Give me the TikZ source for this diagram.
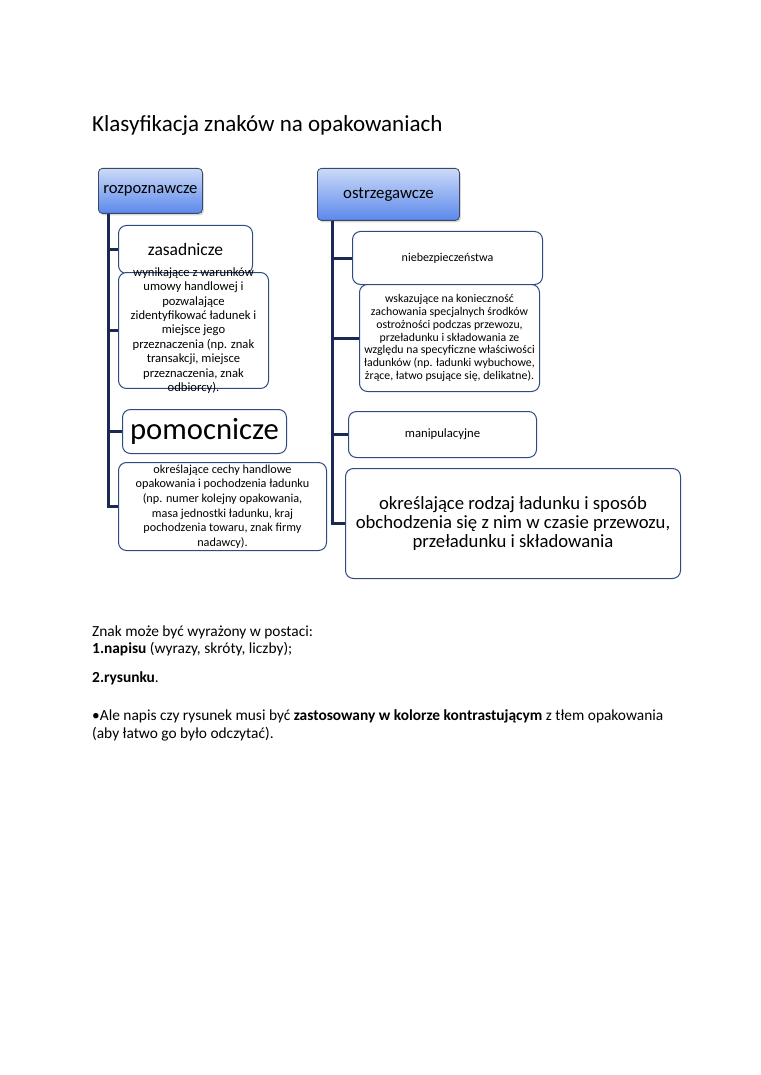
\documentclass[tikz,border=0pt]{standalone}
\usepackage{fontspec}
\setmainfont{Carlito}
\usepackage{tikz}
\usetikzlibrary{positioning,shadows,calc}
\usepackage{xcolor}

\definecolor{granat}{HTML}{1B2A52}
\definecolor{ramka}{HTML}{2F4B80}
\definecolor{jasny}{HTML}{CBDAF7}
\definecolor{ciemny}{HTML}{5B88EC}
\definecolor{szary}{HTML}{3A4866}

\begin{document}
\begin{tikzpicture}[%
    x=1pt,
    y=-1pt,
    glowny/.style={%
      rectangle,
      rounded corners=4pt,
      draw=szary,
      line width=0.8pt,
      top color=jasny,
      bottom color=ciemny,
      drop shadow={shadow xshift=1.5pt,shadow yshift=-2pt,opacity=0.3},
      anchor=north west,
      inner sep=0pt
    },
    opis/.style={%
      rectangle,
      rounded corners=8pt,
      draw=ramka,
      line width=1pt,
      fill=white,
      align=center,
      anchor=north west,
      inner sep=0pt
    },
    galaz/.style={draw=granat, line width=3pt},
    tekst/.style={anchor=base west, inner sep=0pt, font=\fontsize{15.4}{18}\selectfont}
  ]
    \path[use as bounding box, fill=white] (0,0) rectangle (760,1075);

    \node[anchor=base west, inner sep=0pt, font=\fontsize{23}{27}\selectfont] (tytul) at (92,132) {Klasyfikacja znaków na opakowaniach};

    % lewa kolumna
    \node[glowny, minimum width=104pt, minimum height=45pt, font=\fontsize{16.6}{19}\selectfont] (rozp) at (98,168) {rozpoznawcze};
    \node[opis, minimum width=134pt, minimum height=48pt, font=\fontsize{17.5}{20}\selectfont] (zas) at (118,225) {zasadnicze};
    \node[opis, minimum width=150pt, minimum height=115pt, inner ysep=-5pt, font=\fontsize{12.6}{14.4}\selectfont] (wyn) at (118,272)
      {wynikające z warunków\\umowy handlowej i\\pozwalające\\zidentyfikować ładunek i\\miejsce jego\\przeznaczenia (np. znak\\transakcji, miejsce\\przeznaczenia, znak\\odbiorcy).};
    \node[opis, minimum width=164pt, minimum height=44pt, font=\fontsize{30.7}{34}\selectfont] (pom) at (122,409) {pomocnicze};
    \node[opis, minimum width=208pt, minimum height=88pt, font=\fontsize{12.2}{14.6}\selectfont] (cech) at (118,462)
      {określające cechy handlowe\\opakowania i pochodzenia ładunku\\(np. numer kolejny opakowania,\\masa jednostki ładunku, kraj\\pochodzenia towaru, znak firmy\\nadawcy).};

    % prawa kolumna
    \node[glowny, minimum width=142pt, minimum height=52pt, font=\fontsize{16.8}{19}\selectfont] (ostrz) at (317,168) {ostrzegawcze};
    \node[opis, minimum width=190pt, minimum height=53pt, font=\fontsize{12}{15}\selectfont] (niebez) at (352,231) {niebezpieczeństwa};
    \node[opis, minimum width=180pt, minimum height=107pt, font=\fontsize{11.8}{12.7}\selectfont] (wsk) at (359,284)
      {wskazujące na konieczność\\zachowania specjalnych środków\\ostrożności podczas przewozu,\\przeładunku i składowania ze\\względu na specyficzne właściwości\\ładunków (np. ładunki wybuchowe,\\żrące, łatwo psujące się, delikatne).};
    \node[opis, minimum width=188pt, minimum height=46pt, font=\fontsize{12.7}{15}\selectfont] (manip) at (348,411) {manipulacyjne};
    \node[opis, minimum width=335pt, minimum height=110pt, font=\fontsize{18.7}{19}\selectfont] (rodz) at (345,468)
      {określające rodzaj ładunku i sposób\\obchodzenia się z nim w czasie przewozu,\\przeładunku i składowania};

    \coordinate (lpien) at ($(rozp.south west)+(10,0)$);
    \coordinate (ppien) at ($(ostrz.south west)+(15,0)$);

    \draw[galaz] (lpien) |- (zas.west)
                 (lpien) |- (wyn.west)
                 (lpien) |- (pom.west)
                 (lpien) |- (cech.west);
    \draw[galaz] (ppien) |- (niebez.west)
                 (ppien) |- (wsk.west)
                 (ppien) |- (manip.west)
                 (ppien) |- (rodz.west);

    % tekst pod schematem
    \node[tekst] (znak) at (92,636) {Znak może być wyrażony w postaci:};
    \node[tekst] (napis) at (92,653) {\textbf{1.napisu} (wyrazy, skróty, liczby);};
    \node[tekst] (rysunek) at (92,682) {\textbf{2.rysunku}.};
    \node[tekst] (ale) at (92,720) {•Ale napis czy rysunek musi być \textbf{zastosowany w kolorze kontrastującym} z tłem opakowania};
    \node[tekst] (aby) at (92,738) {(aby łatwo go było odczytać).};
\end{tikzpicture}
\end{document}
